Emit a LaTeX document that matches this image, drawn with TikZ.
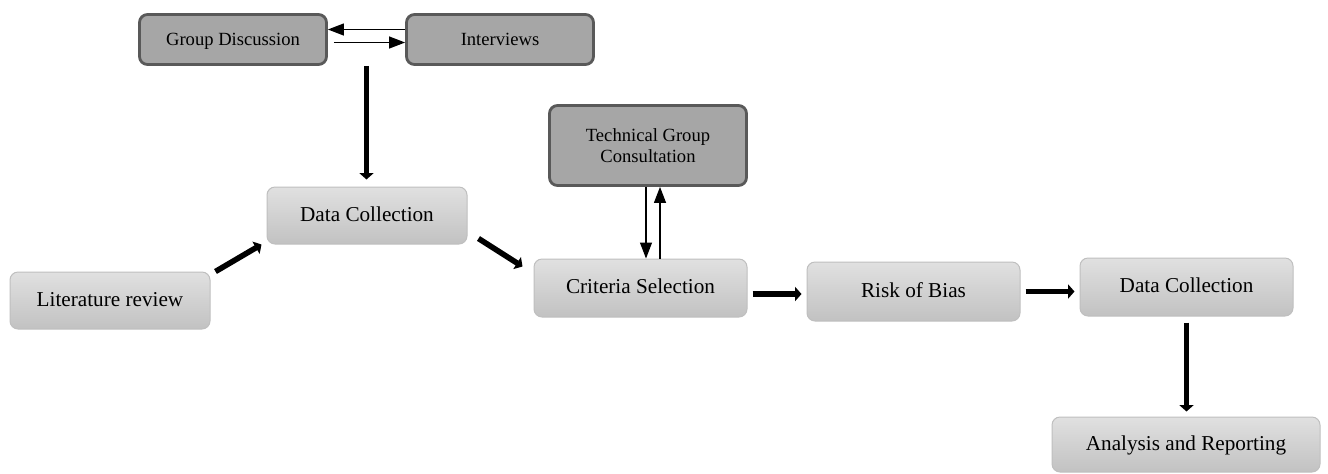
\documentclass[tikz,border=0pt]{standalone}
\usepackage{fontspec}
\setmainfont{Liberation Serif}
\usetikzlibrary{positioning,calc,arrows.meta}

\tikzset{
  darkbox/.style={draw=black!65, line width=1.4pt, fill=black!35, rounded corners=4pt,
    minimum width=93.5pt, minimum height=25pt, align=center,
    font=\fontsize{9.3}{10.8}\selectfont},
  oneline/.style={text height=1.7ex, text depth=0.4ex},
  lightbox/.style={draw=black!25, line width=0.5pt, top color=black!12, bottom color=black!24,
    rounded corners=4pt, minimum width=100pt, minimum height=28.5pt, oneline,
    font=\fontsize{10.6}{13}\selectfont},
  bigarrow/.style={line width=2.8pt, -{Triangle[length=3.2pt,width=7pt]}},
  thinarrow/.style={line width=0.6pt, -{Triangle[length=8pt,width=6pt]}}
}

\begin{document}
\begin{tikzpicture}[x=0.5pt, y=-0.5pt]
    \useasboundingbox (0,0) rectangle (1328,473);

    % Consultation boxes
    \node[darkbox, oneline] (gd) at (233,39.5) {Group Discussion};
    \node[darkbox, oneline] (int) at (500,39.5) {Interviews};
    \node[darkbox, minimum width=98.5pt, minimum height=40pt] (tgc) at (648,145.5) {Technical Group\\Consultation};

    % Main flow
    \node[lightbox] (dc1) at (367,215.5) {Data Collection};
    \node[lightbox] (lit) at (110,300.5) {Literature review};
    \node[lightbox, minimum width=106.5pt, minimum height=29pt] (cs) at (640.5,288) {Criteria Selection};
    \node[lightbox, minimum width=106.5pt, minimum height=29.5pt] (rob) at (913.5,291.5) {Risk of Bias};
    \node[lightbox, minimum width=106.5pt, minimum height=29pt] (dc2) at (1186.5,287) {Data Collection};
    \node[lightbox, minimum width=134pt, minimum height=27.5pt] (ar) at (1186,444.5) {Analysis and Reporting};

    % Arrows between the consultation boxes
    \draw[thinarrow] ([yshift=5pt]int.west) -- ([yshift=5pt]gd.east);
    \draw[thinarrow] ([xshift=3pt,yshift=-1.5pt]gd.east) -- ([yshift=-1.5pt]int.west);
    \draw[thinarrow] ([xshift=-1pt]tgc.south) -- ([xshift=-1pt]tgc.south |- cs.north);
    \draw[thinarrow] ([xshift=6pt]tgc.south |- cs.north) -- ([xshift=6pt]tgc.south);

    % Flow arrows
    \coordinate (split) at ($(gd.south east)!0.5!(int.south west)$);
    \draw[bigarrow, shorten >=3.5pt] (split) -- (split |- dc1.north);
    \draw[bigarrow] ([xshift=2.5pt]lit.north east) -- ([xshift=-2.5pt]dc1.south west);
    \draw[bigarrow] ([shift={(5.5pt,3pt)}]dc1.south east) -- ([shift={(-5.5pt,-4pt)}]cs.north west);
    \draw[bigarrow] ([shift={(2.5pt,-3pt)}]cs.east) -- ([shift={(-2.5pt,-3pt)}]cs.east -| rob.west);
    \draw[bigarrow] ([xshift=2.5pt]rob.east) -- ([xshift=-2.5pt]rob.east -| dc2.west);
    \draw[bigarrow] ([yshift=-3pt]dc2.south) -- ([yshift=2.5pt]dc2.south |- ar.north);
\end{tikzpicture}
\end{document}
